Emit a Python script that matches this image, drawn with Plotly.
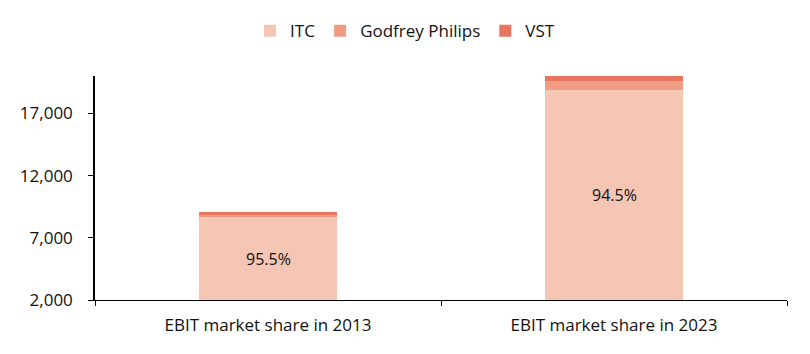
import plotly.graph_objects as go

categories = ["EBIT market share in 2013", "EBIT market share in 2023"]
itc = [8640, 18850]
godfrey = [250, 780]
vst = [160, 340]
share_labels = ["95.5%", "94.5%"]
tick_vals = [2000, 7000, 12000, 17000]

colors = {"ITC": "#F6C6B4", "Godfrey Philips": "#F09C84", "VST": "#E8765F"}
font_family = "'Open Sans', sans-serif"

fig = go.Figure()
for name, vals in [("ITC", itc), ("Godfrey Philips", godfrey), ("VST", vst)]:
    fig.add_trace(go.Bar(x=categories, y=vals, name=name,
                         marker=dict(color=colors[name], line=dict(width=0))))

ymin = tick_vals[0]
for c, v, lab in zip(categories, itc, share_labels):
    fig.add_annotation(x=c, y=(ymin + v) / 2, text=lab, showarrow=False,
                       font=dict(size=16, color="#111111", family=font_family))

fig.update_layout(
    barmode="stack",
    bargap=0.6,
    width=810, height=354,
    margin=dict(l=95, r=23, t=76, b=54, autoexpand=False),
    plot_bgcolor="white", paper_bgcolor="white",
    font=dict(family=font_family, size=17, color="#111111"),
    legend=dict(orientation="h", x=0.448, xanchor="center",
                y=1.2, yref="paper", yanchor="middle", font=dict(size=17),
                traceorder="normal", itemwidth=30),
    xaxis=dict(showline=True, linecolor="black", linewidth=1, ticks="outside",
               tickson="boundaries", ticklen=5, tickcolor="black",
               showgrid=False, tickangle=0, automargin=False,
               ticklabelstandoff=10),
    yaxis=dict(range=[ymin, 20000], tickvals=tick_vals, tickformat=",",
               showline=True, linecolor="black", linewidth=1.5, ticks="outside",
               ticklen=5, tickcolor="black", showgrid=False, zeroline=False,
               ticklabelstandoff=12, automargin=False),
)

fig.write_html("out.html")
